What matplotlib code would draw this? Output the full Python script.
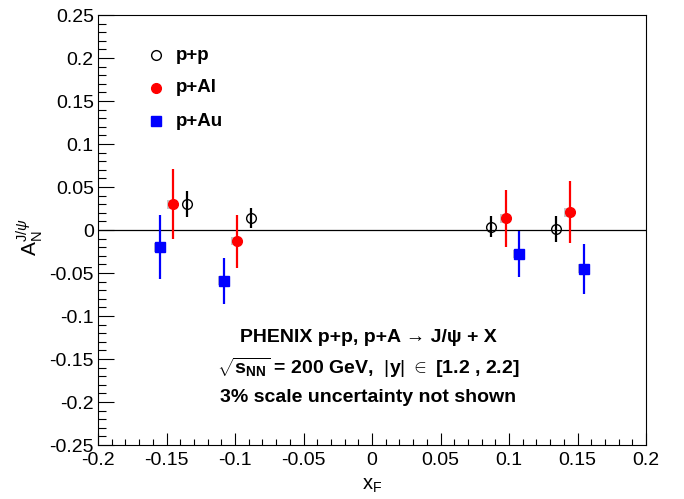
import numpy as np
import matplotlib
matplotlib.use('Agg')
import matplotlib.pyplot as plt
from matplotlib.patches import Rectangle
from matplotlib.ticker import MultipleLocator

plt.rcParams['font.family'] = ['Liberation Sans', 'DejaVu Sans']
plt.rcParams['mathtext.fontset'] = 'custom'
plt.rcParams['mathtext.rm'] = 'Liberation Sans'
plt.rcParams['mathtext.it'] = 'Liberation Sans:italic'
plt.rcParams['mathtext.bf'] = 'Liberation Sans:bold'

# p+p
pp_x = [-0.135, -0.088, 0.087, 0.1345]
pp_y = [0.030, 0.014, 0.004, 0.001]
pp_err = [0.015, 0.012, 0.012, 0.015]

# p+Al
pal_x = [-0.145, -0.0985, 0.0976, 0.1445]
pal_y = [0.030, -0.013, 0.0136, 0.0205]
pal_err = [0.041, 0.031, 0.0335, 0.036]

# p+Au
pau_x = [-0.155, -0.108, 0.1075, 0.155]
pau_y = [-0.020, -0.059, -0.028, -0.045]
pau_err = [0.037, 0.027, 0.027, 0.029]

# systematic boxes (grey)
sys_half = 0.005

fig = plt.figure(figsize=(6.84, 4.99), dpi=100)
ax = fig.add_axes([0.1433, 0.1082, 0.8012, 0.8617])

ax.axhline(0, color='black', lw=0.9, zorder=1)

series = [
    (pal_x, pal_y, pal_err, 'o', 'red', 'red', 'p+Al'),
    (pau_x, pau_y, pau_err, 's', 'blue', 'blue', 'p+Au'),
    (pp_x, pp_y, pp_err, 'o', 'black', 'none', 'p+p'),
]

for xs, ys, es, m, c, fc, lab in series:
    for x, y in zip(xs, ys):
        if fc != 'none':
            ax.add_patch(Rectangle((x - 0.0045, y - sys_half), 0.0075, 2 * sys_half,
                                   facecolor='#c8c8c8', edgecolor='none', zorder=2))
    ax.errorbar(xs, ys, yerr=es, fmt='none', ecolor=c, elinewidth=1.6, capsize=0, zorder=3)
    ax.plot(xs, ys, m, color=c, mfc=fc, mec=c, ms=7 if m == 'o' else 6.5,
            mew=1.0, zorder=4, linestyle='none')

ax.set_xlim(-0.2, 0.2)
ax.set_ylim(-0.25, 0.25)
ax.xaxis.set_major_locator(MultipleLocator(0.05))
ax.xaxis.set_minor_locator(MultipleLocator(0.01))
ax.yaxis.set_major_locator(MultipleLocator(0.05))
ax.yaxis.set_minor_locator(MultipleLocator(0.01))

def fmt(v, pos):
    s = '%g' % round(v, 3)
    return '0' if s in ('0', '-0') else s

ax.xaxis.set_major_formatter(plt.FuncFormatter(fmt))
ax.yaxis.set_major_formatter(plt.FuncFormatter(fmt))

ax.tick_params(axis='both', which='both', direction='in', top=False, right=False,
               labelsize=14, width=0.8)
ax.tick_params(axis='y', which='major', length=11.3, pad=3)
ax.tick_params(axis='y', which='minor', length=5.5)
ax.tick_params(axis='x', which='major', length=8.6, pad=5)
ax.tick_params(axis='x', which='minor', length=4.3)
for sp in ax.spines.values():
    sp.set_linewidth(0.8)

ax.set_xlabel(r'$\mathrm{x}_{\mathrm{F}}$', fontsize=14.5, va='top')
ax.xaxis.set_label_coords(0.5, -0.072)
fig.text(30 / 684, 1 - 237 / 499, r'$\mathrm{A}_{\mathrm{N}}^{\mathrm{J}/\psi}$',
         rotation=90, ha='center', va='center', fontsize=15)

# legend
leg_y = [55, 88, 121]
leg_items = [('o', 'black', 'none', 'p+p'), ('o', 'red', 'red', 'p+Al'), ('s', 'blue', 'blue', 'p+Au')]
for py, (m, c, fc, lab) in zip(leg_y, leg_items):
    fx = 156 / 684
    fy = 1 - py / 499
    ax.plot([fx], [fy], m, color=c, mfc=fc, mec=c, ms=7 if m == 'o' else 6.5,
            transform=fig.transFigure, clip_on=False, linestyle='none')
    fig.text(176 / 684, fy, lab, ha='left', va='center', fontsize=13.5, fontweight='bold')

# annotation
cx = 368 / 684
fig.text(cx, 1 - 338 / 499, 'PHENIX p+p, p+A \u2192 J/\u03c8 + X', ha='center', va='center',
         fontsize=14, fontweight='bold')
fig.text(cx, 1 - 368 / 499,
         r'$\sqrt{\mathbf{s}_{\mathbf{NN}}}$ = 200 GeV,  $|\mathbf{y}|$ $\in$ [1.2 , 2.2]',
         ha='center', va='center', fontsize=14, fontweight='bold')
fig.text(cx, 1 - 398 / 499, '3% scale uncertainty not shown', ha='center', va='center',
         fontsize=14, fontweight='bold')

fig.savefig('out.png', dpi=100)
